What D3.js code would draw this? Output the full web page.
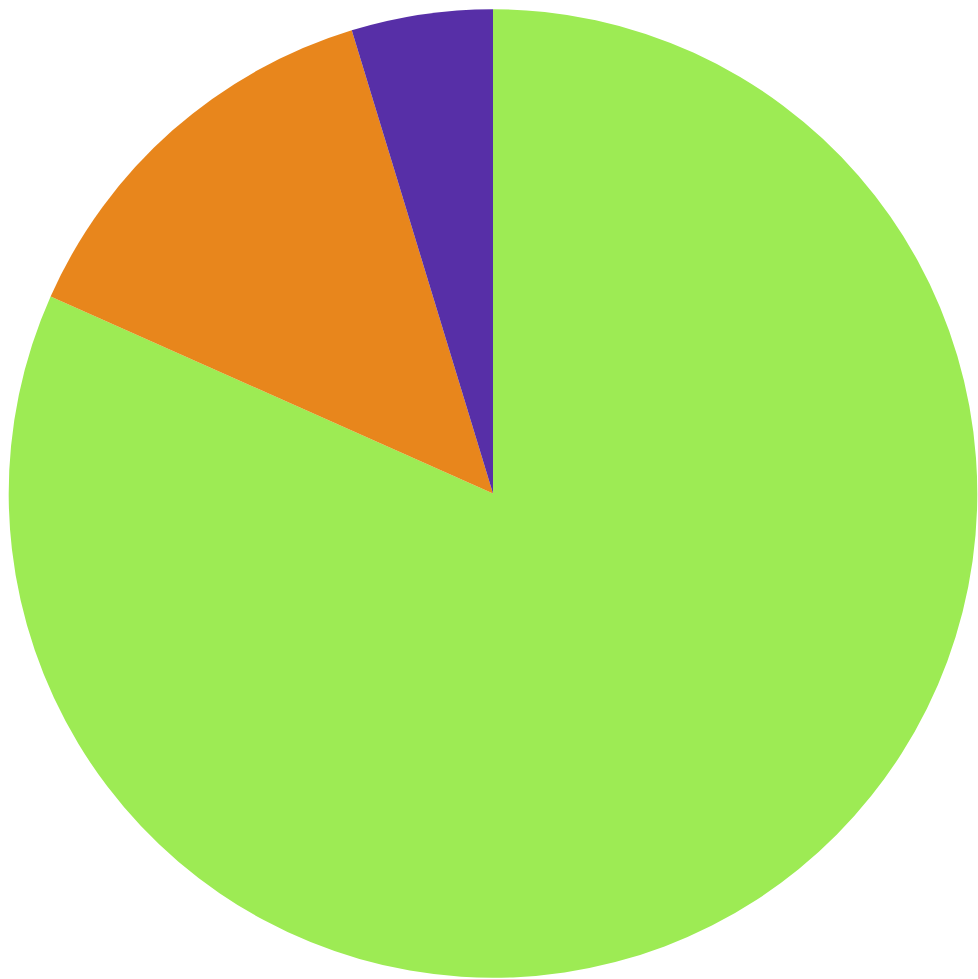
<!DOCTYPE html>
<html>
<head>
<meta charset="utf-8">
<script src="https://cdn.jsdelivr.net/npm/d3@7"></script>
<style>
html, body { margin: 0; padding: 0; background: #ffffff; }
svg { display: block; }
</style>
</head>
<body>
<script>
const categories = ["A", "B", "C"];
const values = [81.67, 13.62, 4.71];
const colors = ["#9deb54", "#e8861c", "#572fa7"];

const width = 978, height = 979;
const cx = 493, cy = 493.5, radius = 484.3;

const svg = d3.select("body").append("svg")
  .attr("width", width).attr("height", height);

const data = categories.map((c, i) => ({ category: c, value: values[i], color: colors[i] }));

const pie = d3.pie().value(d => d.value).sort(null);
const arc = d3.arc().innerRadius(0).outerRadius(radius);

svg.append("g")
  .attr("transform", `translate(${cx},${cy})`)
  .selectAll("path")
  .data(pie(data))
  .join("path")
  .attr("d", arc)
  .attr("fill", d => d.data.color);
</script>
</body>
</html>
